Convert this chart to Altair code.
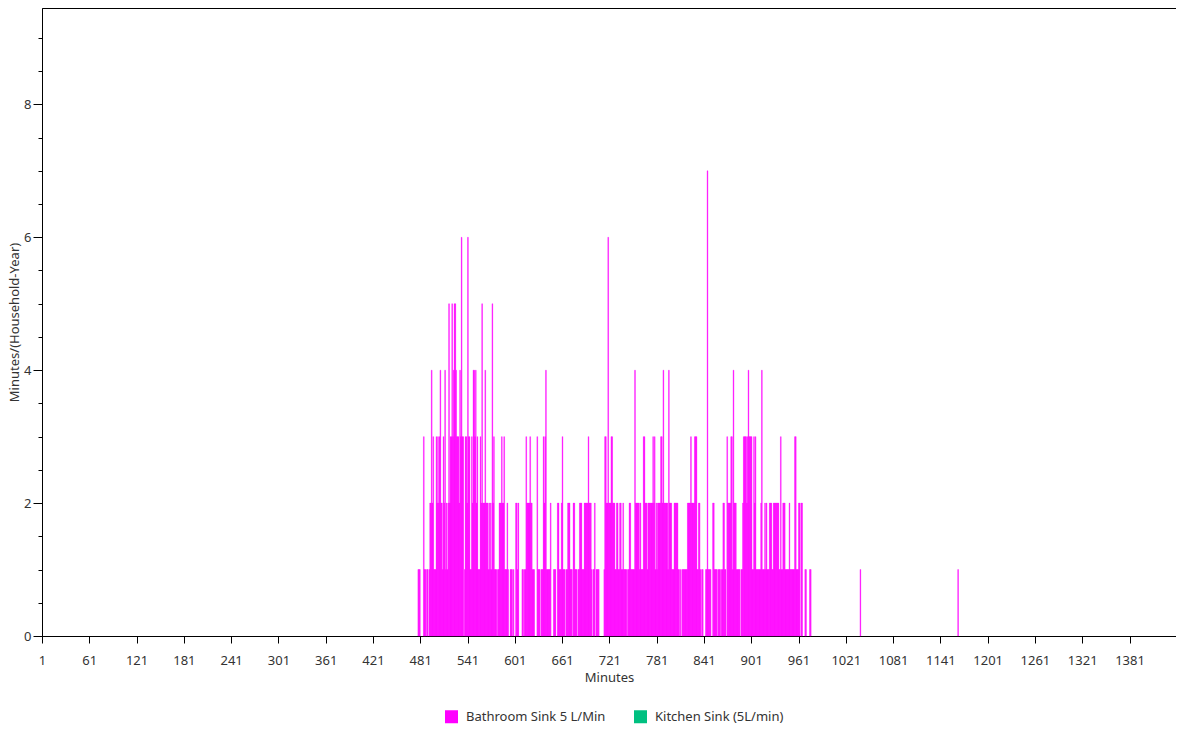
import altair as alt
import pandas as pd

series_names = ["Bathroom Sink 5 L/Min", "Kitchen Sink (5L/min)"]
series_colors = ["#FF00FF", "#00C080"]

# Bathroom sink: minutes 471..980, one value per minute
block_start = 471
block_values = [
    0,0,0,0,0,0,0,1,1,1,
    0,0,0,0,3,1,1,0,1,1,
    0,1,2,2,4,2,3,1,1,1,
    3,2,3,2,3,4,2,2,1,3,
    2,4,1,2,1,2,5,2,3,3,
    5,3,4,5,5,4,3,3,3,2,
    4,3,6,3,3,0,1,3,3,2,
    6,3,3,1,1,3,2,4,4,3,
    4,2,3,1,1,1,3,2,5,2,
    2,2,4,2,2,2,1,2,1,2,
    1,5,2,3,1,1,1,0,1,1,
    2,2,2,3,2,2,3,1,1,1,
    2,1,0,0,1,1,1,0,1,0,
    0,2,2,1,2,0,0,0,0,1,
    1,0,1,1,3,2,2,2,2,3,
    2,2,1,1,1,0,0,0,3,1,
    1,1,0,1,1,1,3,2,3,4,
    1,1,1,1,1,2,0,0,0,1,
    1,1,0,0,2,2,1,1,1,2,
    3,1,1,1,0,1,1,2,2,2,
    1,1,1,0,2,2,1,1,1,0,
    1,1,2,2,2,1,1,1,2,2,
    2,2,2,3,2,2,2,1,0,1,
    1,2,0,1,1,1,1,0,0,0,
    0,0,0,1,3,3,2,2,6,2,
    2,2,3,3,2,2,2,1,1,2,
    2,1,1,2,2,1,1,2,1,1,
    1,1,0,1,1,2,2,1,1,1,
    1,1,4,2,2,2,2,2,1,2,
    1,1,1,3,3,2,2,2,1,2,
    2,2,2,2,2,3,2,3,1,2,
    1,2,2,2,2,3,3,2,4,2,
    2,2,2,2,1,4,2,2,2,1,
    1,1,2,2,2,2,2,1,1,0,
    1,0,1,1,1,1,1,1,1,2,
    2,2,2,3,2,2,2,2,3,3,
    3,1,1,2,2,1,0,1,1,0,
    0,0,1,1,7,1,1,1,1,0,
    0,2,2,1,1,1,1,0,1,1,
    1,0,1,1,2,2,1,1,0,3,
    2,2,2,2,3,3,1,4,2,2,
    2,1,1,1,1,1,0,1,1,2,
    3,3,3,3,2,3,4,3,3,3,
    3,1,1,3,2,3,1,1,1,1,
    1,1,2,4,1,1,1,2,1,2,
    1,1,1,2,2,2,1,1,2,2,
    2,2,2,2,2,1,1,3,1,1,
    2,2,2,1,1,1,1,1,2,1,
    1,1,1,1,1,3,3,1,1,1,
    2,2,0,2,2,0,0,0,1,1,
    0,0,0,0,1,1,0,0,0,0,
]
extra_minutes = [1039, 1163]
extra_values = [1, 1]

x_tick_values = [1, 61, 121, 181, 241, 301, 361, 421, 481, 541, 601, 661,
                 721, 781, 841, 901, 961, 1021, 1081, 1141, 1201, 1261, 1321, 1381]
y_tick_values = [0, 0.5, 1, 1.5, 2, 2.5, 3, 3.5, 4, 4.5, 5, 5.5, 6, 6.5, 7, 7.5, 8, 8.5, 9]

minutes = list(range(block_start, block_start + len(block_values))) + extra_minutes
values = block_values + extra_values
df = pd.DataFrame({"minute": minutes, "value": values, "series": series_names[0]})
df = df[df["value"] > 0]

FONT = "Noto Sans"

chart = (
    alt.Chart(df)
    .transform_calculate(minute_end="datum.minute + 1")
    .mark_rect(stroke="#FF00FF", strokeWidth=0.35)
    .encode(
        x=alt.X(
            "minute:Q",
            title="Minutes",
            scale=alt.Scale(domain=[1, 1440], nice=False, zero=False),
            axis=alt.Axis(
                values=x_tick_values,
                format="d",
                tickSize=7,
                labelPadding=11,
                titlePadding=4,
                grid=False,
                labelFlush=False,
            ),
        ),
        x2="minute_end:Q",
        y=alt.Y(
            "value:Q",
            title="Minutes/(Household-Year)",
            scale=alt.Scale(domain=[0, 9.45], nice=False),
            axis=alt.Axis(
                values=y_tick_values,
                labelExpr="datum.value % 2 == 0 ? format(datum.value, 'd') : ''",
                tickSize={"condition": {"test": "datum.value % 2 == 0", "value": 9}, "value": 4},
                labelPadding=2,
                titlePadding=2,
                grid=False,
            ),
        ),
        y2=alt.datum(0),
        color=alt.Color(
            "series:N",
            scale=alt.Scale(domain=series_names, range=series_colors),
            legend=alt.Legend(
                title=None,
                orient="none",
                direction="horizontal",
                legendX=403,
                legendY=702,
                symbolType="square",
                symbolSize=169,
                symbolStrokeWidth=0,
                symbolOpacity=1,
                labelFontSize=13,
                labelOffset=8,
                columnPadding=28,
                labelColor="#333333",
                labelFont=FONT,
            ),
        ),
    )
    .properties(width=1134, height=628, padding=0)
    .configure_view(stroke="black", strokeWidth=1)
    .configure_axis(
        domainColor="black",
        tickColor="black",
        labelFont=FONT,
        titleFont=FONT,
        labelFontSize=13,
        titleFontSize=13,
        labelColor="#333333",
        titleColor="#333333",
        titleFontWeight="normal",
    )
)

chart.save("out.html", embed_options={"renderer": "svg", "actions": False})
